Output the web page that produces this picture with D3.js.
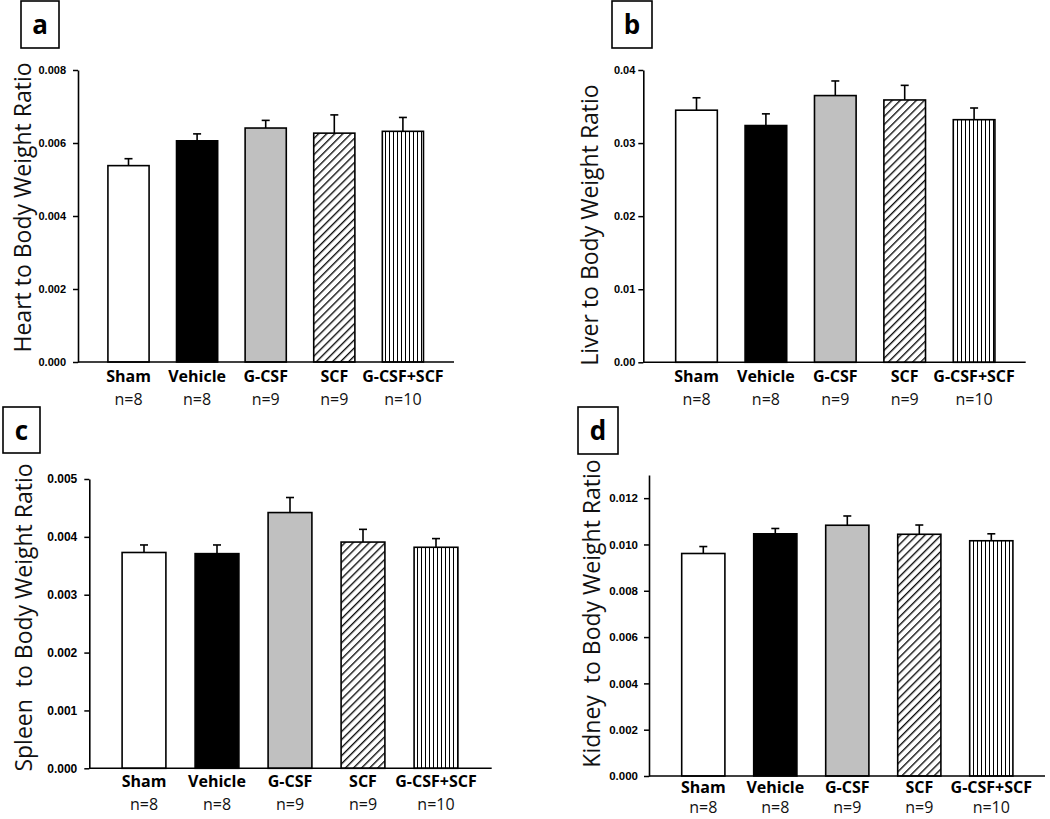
<!DOCTYPE html>
<html><head><meta charset="utf-8">
<script src="https://cdn.jsdelivr.net/npm/d3@7"></script>
<style>
body{margin:0;background:#fff}
svg{display:block}
</style>
</head><body>
<svg id="chart" width="1050" height="819"></svg>
<script>
// ---------- data ----------
const categories = ["Sham", "Vehicle", "G-CSF", "SCF", "G-CSF+SCF"];
const nLabels = ["n=8", "n=8", "n=9", "n=9", "n=10"];

const heartMeans = [0.00538, 0.00606, 0.00641, 0.00627, 0.00632];
const heartErr   = [0.00019, 0.00019, 0.00021, 0.00050, 0.00038];
const heartTicks = [0, 0.002, 0.004, 0.006, 0.008];

const liverMeans = [0.0345, 0.0324, 0.0365, 0.0359, 0.0332];
const liverErr   = [0.0017, 0.0016, 0.0020, 0.0020, 0.0016];
const liverTicks = [0, 0.01, 0.02, 0.03, 0.04];

const spleenMeans = [0.00373, 0.00371, 0.00442, 0.00391, 0.00382];
const spleenErr   = [0.00013, 0.00015, 0.00026, 0.00022, 0.00015];
const spleenTicks = [0, 0.001, 0.002, 0.003, 0.004, 0.005];

const kidneyMeans = [0.00961, 0.01046, 0.01083, 0.01044, 0.01016];
const kidneyErr   = [0.00030, 0.00023, 0.00040, 0.00040, 0.00030];
const kidneyTicks = [0, 0.002, 0.004, 0.006, 0.008, 0.010, 0.012];

// ---------- styles ----------
const fills = ["#ffffff", "#000000", "#c0c0c0", "url(#diag)", "url(#vert)"];
const labelFont = "'Open Sans', 'Noto Sans', sans-serif";
const tickFontFam = "'Liberation Sans', Arial, sans-serif";

const svg = d3.select("#chart");
svg.append("rect").attr("width", 1050).attr("height", 819).attr("fill", "#fff");

const defs = svg.append("defs");
const pd = defs.append("pattern").attr("id", "diag")
  .attr("patternUnits", "userSpaceOnUse").attr("width", 5.7).attr("height", 5.7)
  .attr("patternTransform", "rotate(45)");
pd.append("rect").attr("width", 5.7).attr("height", 5.7).attr("fill", "#fff");
pd.append("line").attr("x1", 0.7).attr("y1", 0).attr("x2", 0.7).attr("y2", 5.7)
  .attr("stroke", "#000").attr("stroke-width", 1.3);

const pv = defs.append("pattern").attr("id", "vert")
  .attr("patternUnits", "userSpaceOnUse").attr("width", 4).attr("height", 10);
pv.append("rect").attr("width", 4).attr("height", 10).attr("fill", "#fff");
pv.append("rect").attr("x", 1).attr("y", 0).attr("width", 1).attr("height", 10)
  .attr("fill", "#000").attr("shape-rendering", "crispEdges");

const panels = [
  { letter: "a", title: "Heart to Body Weight Ratio", means: heartMeans, errs: heartErr, ticks: heartTicks, fmt: ".3f",
    yMax: 0.008, axisX: 78, yTop: 70, yBottom: 362, xEnd: 454, band: [94.2, 437.2],
    box: [21, 1, 38, 47], letterPos: [40, 34], titlePos: [31, 207.5], tickFont: 11, tickPad: 7, catY: 382, nY: 405 },
  { letter: "b", title: "Liver to Body Weight Ratio", means: liverMeans, errs: liverErr, ticks: liverTicks, fmt: ".2f",
    yMax: 0.04, axisX: 643.3, yTop: 70, yBottom: 362.3, xEnd: 1025.7, band: [661.8, 1008.8],
    box: [612, 1, 40, 47], letterPos: [632, 34], titlePos: [598, 225], tickFont: 11, tickPad: 3, catY: 382, nY: 405 },
  { letter: "c", title: "Spleen  to Body Weight Ratio", means: spleenMeans, errs: spleenErr, ticks: spleenTicks, fmt: ".3f",
    yMax: 0.005, axisX: 89.3, yTop: 479, yBottom: 768.3, xEnd: 491.7, band: [107.5, 472.5],
    box: [3, 407, 37, 46], letterPos: [21.5, 440], titlePos: [32, 617.5], tickFont: 12, tickPad: 7, catY: 786.7, nY: 810 },
  { letter: "d", title: "Kidney  to Body Weight Ratio", means: kidneyMeans, errs: kidneyErr, ticks: kidneyTicks, fmt: ".3f",
    yMax: 0.013, axisX: 649, yTop: 475, yBottom: 776, xEnd: 1045, band: [667.3, 1027.3],
    box: [578, 407, 40, 47], letterPos: [598, 440], titlePos: [600, 613.5], tickFont: 11.5, tickPad: 6, catY: 793, nY: 813 }
];

panels.forEach(p => {
  const g = svg.append("g");
  const x = d3.scaleBand().domain(categories).range(p.band).paddingInner(0.4).paddingOuter(0.2);
  const y = d3.scaleLinear().domain([0, p.yMax]).range([p.yBottom, p.yTop]);
  const data = categories.map((c, i) => ({ c, m: p.means[i], e: p.errs[i], n: nLabels[i], fill: fills[i] }));

  // error bars (drawn first so bar top edge sits above)
  const eb = g.append("g").attr("stroke", "#000").attr("stroke-width", 1.6).attr("fill", "none");
  data.forEach(d => {
    const cx = x(d.c) + x.bandwidth() / 2;
    eb.append("line").attr("x1", cx).attr("x2", cx).attr("y1", y(d.m)).attr("y2", y(d.m + d.e));
    eb.append("line").attr("x1", cx - 4).attr("x2", cx + 4).attr("y1", y(d.m + d.e)).attr("y2", y(d.m + d.e));
  });

  // bars
  g.append("g").selectAll("rect").data(data).join("rect")
    .attr("x", d => x(d.c)).attr("width", x.bandwidth())
    .attr("y", d => y(d.m)).attr("height", d => y(0) - y(d.m))
    .attr("fill", d => d.fill).attr("stroke", "#000").attr("stroke-width", 1.6);

  // y axis
  const yAxis = d3.axisLeft(y).tickValues(p.ticks).tickFormat(d3.format(p.fmt))
    .tickSize(5).tickSizeOuter(0).tickPadding(p.tickPad);
  const ya = g.append("g").attr("transform", `translate(${p.axisX},0)`).call(yAxis);
  ya.select(".domain").attr("stroke", "#000").attr("stroke-width", 1.6);
  ya.selectAll(".tick line").attr("stroke", "#000").attr("stroke-width", 1.5);
  ya.selectAll(".tick text").attr("fill", "#000")
    .style("font-family", tickFontFam).style("font-weight", "bold").style("font-size", p.tickFont + "px");

  // x axis line
  g.append("line").attr("x1", p.axisX).attr("x2", p.xEnd).attr("y1", y(0)).attr("y2", y(0))
    .attr("stroke", "#000").attr("stroke-width", 1.6);

  // category labels
  g.append("g").selectAll("text").data(data).join("text")
    .attr("x", d => x(d.c) + x.bandwidth() / 2).attr("y", p.catY)
    .attr("text-anchor", "middle").style("font-family", labelFont).style("font-weight", "bold")
    .style("font-size", "16px").text(d => d.c);
  g.append("g").selectAll("text").data(data).join("text")
    .attr("x", d => x(d.c) + x.bandwidth() / 2).attr("y", p.nY)
    .attr("text-anchor", "middle").style("font-family", labelFont)
    .style("font-size", "16px").attr("fill", "#111").text(d => d.n);

  // y title
  g.append("text").attr("transform", `translate(${p.titlePos[0]},${p.titlePos[1]}) rotate(-90)`)
    .attr("text-anchor", "middle").style("font-family", labelFont).style("font-size", "23px")
    .style("white-space", "pre").attr("fill", "#111").text(p.title);

  // panel letter box
  g.append("rect").attr("x", p.box[0]).attr("y", p.box[1]).attr("width", p.box[2]).attr("height", p.box[3])
    .attr("fill", "#fff").attr("stroke", "#000").attr("stroke-width", 1.6);
  g.append("text").attr("x", p.letterPos[0]).attr("y", p.letterPos[1]).attr("text-anchor", "middle")
    .style("font-family", labelFont).style("font-weight", "bold").style("font-size", "26px").text(p.letter);
});
</script>
</body></html>
